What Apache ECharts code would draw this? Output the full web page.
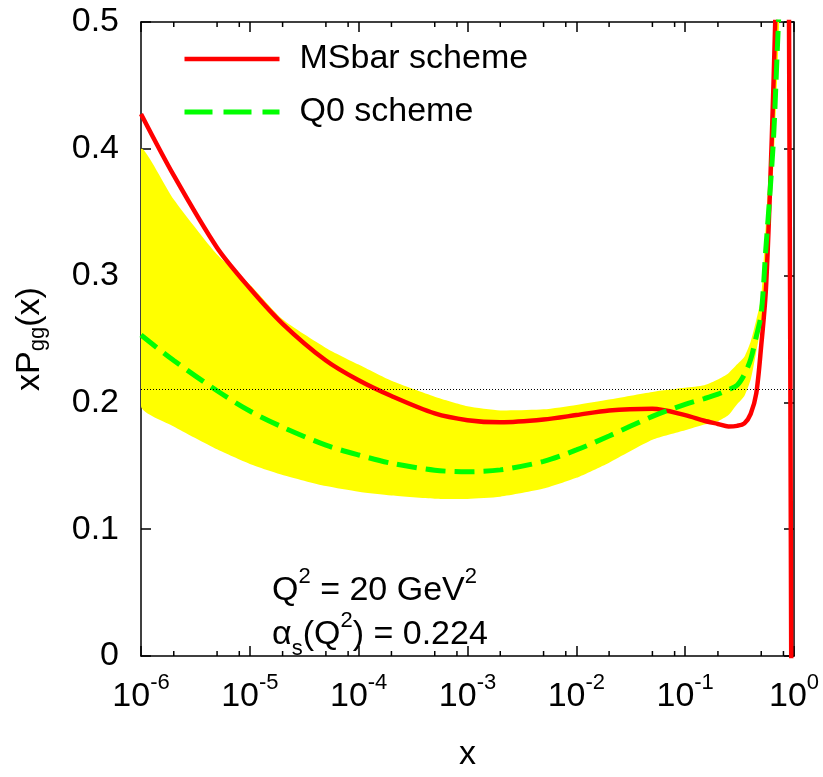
<!DOCTYPE html>
<html><head><meta charset="utf-8">
<script src="https://cdn.jsdelivr.net/npm/echarts@6/dist/echarts.min.js"></script>
<style>html,body{margin:0;padding:0;background:#fff}#c{width:823px;height:777px}</style>
</head><body><div id="c"></div>
<script>
const FONT = '"Liberation Sans", Arial, Helvetica, sans-serif';
const xs = [1e-6,2e-6,5e-6,1e-5,2e-5,5e-5,1e-4,2e-4,5e-4,1e-3,2e-3,5e-3,1e-2,2e-2,5e-2,0.1,0.15,0.2,0.25,0.3,0.35,0.4,0.45,0.5,0.55,0.6,0.65,0.7,0.75,0.8];
const msbar = [0.4275,0.379,0.322,0.290,0.262,0.233,0.2174,0.205,0.1913,0.186,0.1843,0.1865,0.190,0.1937,0.1950,0.190,0.1855,0.1830,0.181,0.1815,0.1835,0.191,0.207,0.245,0.287,0.364,0.455,0.56,0.70,0.90];
const msbarTailX = [0.85,0.9,0.943,0.97];
const msbarTailY = [1.0,0.5,0.0,-0.6];
const q0 = [0.2531,0.233,0.2092,0.1932,0.1805,0.1663,0.1585,0.152,0.1465,0.1453,0.1468,0.1535,0.1625,0.1735,0.189,0.1985,0.203,0.2065,0.210,0.2135,0.222,0.234,0.252,0.27,0.32,0.364,0.41,0.475,0.54,0.64];
const bandUpper = [0.3996,0.360,0.3166,0.293,0.2655,0.243,0.2298,0.217,0.2045,0.197,0.1937,0.1945,0.198,0.2023,0.2083,0.2115,0.2135,0.218,0.223,0.230,0.236,0.248,0.265,0.283,0.34,0.39,0.44,0.50,0.57,0.68];
const bandLower = [0.197,0.181,0.163,0.1515,0.1428,0.134,0.1295,0.1265,0.124,0.1239,0.1256,0.132,0.1405,0.1525,0.1705,0.178,0.1825,0.1852,0.190,0.1985,0.205,0.218,0.240,0.262,0.30,0.345,0.39,0.455,0.53,0.63];
const refLine = 0.2145;
const minorTicks = [];
[1e-6,1e-5,1e-4,1e-3,1e-2,1e-1].forEach(d => [2,5,8].forEach(m => minorTicks.push(d*m)));

const redData = xs.map((x,i)=>[x,msbar[i]]).concat(msbarTailX.map((x,i)=>[x,msbarTailY[i]]));
const greenData = xs.map((x,i)=>[x,q0[i]]);

const chart = echarts.init(document.getElementById('c'), null, {renderer:'canvas'});
const supRich = {
  b:{fontSize:34,lineHeight:34,fontFamily:FONT,color:'#000',verticalAlign:'bottom'},
  s:{fontSize:22,lineHeight:22,fontFamily:FONT,color:'#000',verticalAlign:'bottom',padding:[0,0,20,0]}
};
const axisCommon = {
  axisLine:{show:true,onZero:false,lineStyle:{color:'#000',width:1.5}},
  splitLine:{show:false}
};
chart.setOption({
  backgroundColor:'#fff',
  animation:false,
  textStyle:{fontFamily:FONT},
  grid:{left:141,right:29,top:22,bottom:101,containLabel:false},
  legend:{
    data:[{name:'MSbar scheme',lineStyle:{width:4.5}},{name:'Q0 scheme',lineStyle:{type:[28,11],width:5}}],
    orient:'vertical',left:182,top:42,padding:0,itemWidth:95,itemHeight:20,itemGap:19,
    itemStyle:{opacity:0},
    textStyle:{fontSize:34,color:'#000',fontFamily:FONT,padding:[0,0,0,15]},
    selectedMode:false
  },
  xAxis:[
    Object.assign({type:'log',logBase:10,min:1e-6,max:1,position:'bottom',
      name:'x',nameLocation:'middle',nameGap:82,
      nameTextStyle:{fontSize:34,color:'#000',fontFamily:FONT},
      axisTick:{show:true,inside:true,length:10,lineStyle:{color:'#000',width:1.5}},
      axisLabel:{show:true,margin:24,formatter:v=>'{b|10}{s|'+Math.round(Math.log10(v))+'}',rich:supRich}
    },axisCommon),
    Object.assign({type:'log',logBase:10,min:1e-6,max:1,position:'top',
      axisTick:{show:true,inside:true,length:10,lineStyle:{color:'#000',width:1.5}},
      axisLabel:{show:false}},axisCommon)
  ],
  yAxis:[
    Object.assign({type:'value',min:0,max:0.5,interval:0.1,position:'left',
      name:'xP{sub|gg}(x)',nameLocation:'middle',nameGap:92,nameRotate:90,
      nameTextStyle:{fontSize:34,color:'#000',fontFamily:FONT,
        rich:{sub:{fontSize:22,fontFamily:FONT,color:'#000',verticalAlign:'top',padding:[16,0,0,0]}}},
      axisTick:{show:true,inside:true,length:10,lineStyle:{color:'#000',width:1.5}},
      axisLabel:{show:true,margin:22,fontSize:34,color:'#000',fontFamily:FONT,
        formatter:v=>v===0?'0':v.toFixed(1)}
    },axisCommon),
    Object.assign({type:'value',min:0,max:0.5,interval:0.1,position:'right',
      axisTick:{show:true,inside:true,length:10,lineStyle:{color:'#000',width:1.5}},
      axisLabel:{show:false}},axisCommon)
  ],
  graphic:[
    {type:'text',left:272,top:566,z:100,style:{text:'{b|Q}{s|2}{b| = 20 GeV}{s|2}',rich:supRich}},
    {type:'text',left:272,top:610,z:100,style:{
      text:'{b|α}{sub|s}{b|(Q}{s|2}{b|) = 0.224}',
      rich:Object.assign({},supRich,{sub:{fontSize:22,lineHeight:22,fontFamily:FONT,color:'#000',verticalAlign:'bottom',padding:[0,0,-8,0]}})
    }}
  ],
  series:[
    {type:'custom',name:'band',coordinateSystem:'cartesian2d',clip:true,silent:true,z:1,
      data:[[xs[0],bandUpper[0]]],
      renderItem:(params,api)=>{
        const pts=[];
        for(let i=0;i<xs.length;i++) pts.push(api.coord([xs[i],bandUpper[i]]));
        for(let i=xs.length-1;i>=0;i--) pts.push(api.coord([xs[i],bandLower[i]]));
        return {type:'polygon',shape:{points:pts,smooth:0.2},style:{fill:'#ffff00',stroke:null}};
      }},
    {type:'custom',name:'minorTicks',coordinateSystem:'cartesian2d',silent:true,z:5,
      data:minorTicks.map(v=>[v,0]),
      renderItem:(params,api)=>{
        const v=api.value(0);
        const b=api.coord([v,0]), t=api.coord([v,0.5]);
        return {type:'group',children:[
          {type:'line',shape:{x1:b[0],y1:b[1],x2:b[0],y2:b[1]-5},style:{stroke:'#000',lineWidth:1.5}},
          {type:'line',shape:{x1:t[0],y1:t[1],x2:t[0],y2:t[1]+5},style:{stroke:'#000',lineWidth:1.5}}
        ]};
      }},
    {type:'line',name:'MSbar scheme',data:redData,symbol:'none',smooth:0.3,clip:true,z:3,
      lineStyle:{color:'#ff0000',width:4.5},itemStyle:{color:'#ff0000'},
      markLine:{silent:true,symbol:'none',label:{show:false},
        lineStyle:{color:'#000',width:1,type:[1,2]},data:[{yAxis:refLine}]}},
    {type:'line',name:'Q0 scheme',data:greenData,symbol:'none',smooth:0.3,clip:true,z:4,
      lineStyle:{color:'#00ff00',width:5,type:[20,9]},itemStyle:{color:'#00ff00'}}
  ]
});
</script></body></html>
